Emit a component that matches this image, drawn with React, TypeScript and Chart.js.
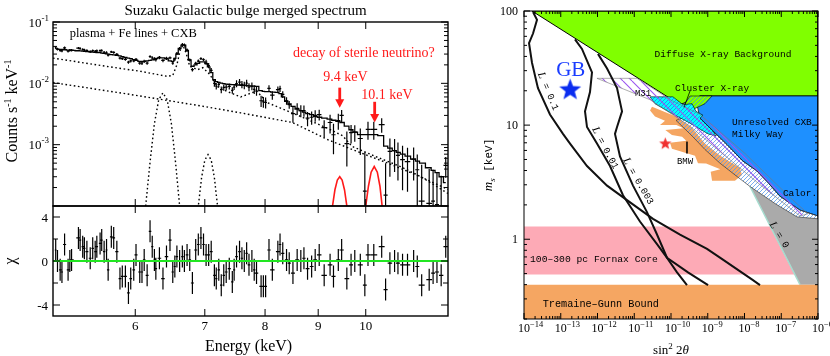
import React, { useEffect, useRef } from "react";
import { Chart, registerables } from "chart.js";

Chart.register(...registerables);

const SERIF = '"Liberation Serif","DejaVu Serif",serif';
const MONO = '"Liberation Mono","DejaVu Sans Mono",monospace';

// ---------------- Left panel: Suzaku spectrum ----------------
const binEnergy = [
  5.03, 5.05, 5.08, 5.1, 5.13, 5.17, 5.19, 5.21, 5.29, 5.31,
  5.34, 5.36, 5.39, 5.43, 5.46, 5.49, 5.51, 5.55, 5.57, 5.6,
  5.63, 5.65, 5.69, 5.72, 5.76, 5.8, 5.83, 5.87, 5.91, 5.94,
  5.98, 6.01, 6.06, 6.09, 6.12, 6.16, 6.2, 6.23, 6.26, 6.28,
  6.33, 6.38, 6.43, 6.48, 6.52, 6.55, 6.58, 6.62, 6.66, 6.69,
  6.73, 6.77, 6.81, 6.86, 6.9, 6.94, 6.98, 7.02, 7.06, 7.1,
  7.15, 7.18, 7.22, 7.26, 7.3, 7.34, 7.39, 7.44, 7.47, 7.51,
  7.56, 7.6, 7.64, 7.68, 7.72, 7.77, 7.81, 7.85, 7.93, 7.97,
  8.01, 8.07, 8.13, 8.23, 8.27, 8.32, 8.39, 8.44, 8.51, 8.59,
  8.66, 8.72, 8.79, 8.87, 8.94, 9.02, 9.12, 9.24, 9.31, 9.41,
  9.48, 9.59, 9.68, 9.76, 9.88, 9.98, 10.05, 10.18, 10.36, 10.45,
  10.55, 10.66, 10.74, 10.85, 10.97, 11.12, 11.21, 11.32, 11.51, 11.61,
  11.71, 11.82, 11.94,
];
const modelCounts = [
  0.0364, 0.0362, 0.0358, 0.0356, 0.0353, 0.0349, 0.0347, 0.0345, 0.034, 0.0337,
  0.0334, 0.0331, 0.0328, 0.0325, 0.0322, 0.0319, 0.0318, 0.0316, 0.0312, 0.0308,
  0.0303, 0.03, 0.0294, 0.029, 0.0285, 0.028, 0.0272, 0.0265, 0.0258, 0.0252,
  0.0243, 0.0237, 0.0228, 0.0227, 0.0228, 0.0232, 0.0236, 0.0242, 0.0249, 0.0254,
  0.026, 0.0261, 0.025, 0.0233, 0.0228, 0.0255, 0.03, 0.037, 0.042, 0.042,
  0.034, 0.024, 0.019, 0.02, 0.0212, 0.0224, 0.0224, 0.021, 0.0185, 0.015,
  0.0115, 0.0107, 0.0104, 0.0101, 0.0099, 0.0097, 0.0096, 0.0095, 0.0095, 0.0094,
  0.0094, 0.0093, 0.0093, 0.0092, 0.0091, 0.009, 0.009, 0.0089, 0.0076, 0.0074,
  0.0073, 0.0073, 0.0072, 0.0071, 0.0068, 0.006, 0.0051, 0.0046, 0.0042, 0.0038,
  0.0036, 0.0034, 0.0032, 0.0031, 0.0029, 0.0028, 0.0027, 0.0026, 0.0025, 0.0024,
  0.0023, 0.002, 0.00175, 0.0016, 0.00146, 0.00146, 0.00146, 0.00146, 0.0014, 0.00095,
  0.00088, 0.0008, 0.00075, 0.0007, 0.00065, 0.00058, 0.00054, 0.0005, 0.00042, 0.00038,
  0.00035, 0.0003, 0.00024,
];
const specCounts = [
  0.0382, 0.0362, 0.0344, 0.0338, 0.0379, 0.0335, 0.0347, 0.0347, 0.0376, 0.0369,
  0.0356, 0.035, 0.0342, 0.0329, 0.0341, 0.0333, 0.0339, 0.0341, 0.0342, 0.0321,
  0.0318, 0.0288, 0.0326, 0.032, 0.0297, 0.0258, 0.0253, 0.0246, 0.0221, 0.0232,
  0.0233, 0.0245, 0.0214, 0.0213, 0.0229, 0.0214, 0.0274, 0.0261, 0.025, 0.0243,
  0.0264, 0.0236, 0.0256, 0.026, 0.0214, 0.0247, 0.0307, 0.037, 0.043, 0.042,
  0.0351, 0.0241, 0.0167, 0.0212, 0.0231, 0.0252, 0.0244, 0.0222, 0.0195, 0.0163,
  0.01, 0.009, 0.0096, 0.0079, 0.0086, 0.0087, 0.0089, 0.0077, 0.0087, 0.0099,
  0.0105, 0.0096, 0.0093, 0.0101, 0.0087, 0.009, 0.008, 0.0075, 0.0052, 0.005,
  0.0049, 0.0083, 0.0064, 0.0079, 0.0082, 0.0066, 0.0052, 0.0045, 0.0032, 0.0039,
  0.0036, 0.0036, 0.0027, 0.0028, 0.003, 0.0031, 0.0019, 0.0023, 0.00145, 0.00247,
  0.003, 0.00104, 0.00157, 0.0016, 0.00126, 0.000175, 0.00178, 0.00178, 0.00213, 0.00015,
  0.00078, 0.0008, 0.00067, 0.00057, 0.00053, 0.00058, 0.00039, 0.00012, 0.00011, 0.00012,
  0.000105, 0.0001, 0.00046,
];
const specSigma = [
  0.0018, 0.0018, 0.0018, 0.0018, 0.0018, 0.0017, 0.0017, 0.0017, 0.0017, 0.0017,
  0.0017, 0.0017, 0.0016, 0.0016, 0.0016, 0.0016, 0.0016, 0.0016, 0.0016, 0.0015,
  0.0015, 0.0015, 0.0015, 0.0015, 0.0014, 0.0014, 0.0014, 0.0013, 0.0013, 0.0013,
  0.0012, 0.0014, 0.0014, 0.0014, 0.0014, 0.0014, 0.0014, 0.0015, 0.0015, 0.0015,
  0.0016, 0.0016, 0.0015, 0.0014, 0.0014, 0.0015, 0.0018, 0.0022, 0.0025, 0.0025,
  0.002, 0.0014, 0.0011, 0.0012, 0.0013, 0.0013, 0.0013, 0.0021, 0.0019, 0.0015,
  0.0012, 0.0011, 0.001, 0.001, 0.001, 0.001, 0.001, 0.00095, 0.00095, 0.0013,
  0.0013, 0.0013, 0.0013, 0.0013, 0.0013, 0.0013, 0.0013, 0.0012, 0.0011, 0.001,
  0.001, 0.001, 0.001, 0.001, 0.00095, 0.00084, 0.00071, 0.00064, 0.00092, 0.00084,
  0.00079, 0.00075, 0.0007, 0.00068, 0.00064, 0.00062, 0.00059, 0.00078, 0.00075, 0.00072,
  0.00069, 0.0006, 0.00053, 0.00048, 0.00058, 0.00058, 0.00058, 0.00058, 0.00056, 0.00035,
  0.00048, 0.00044, 0.00041, 0.00039, 0.00036, 0.00032, 0.0003, 0.00035, 0.00029, 0.00027,
  0.00025, 0.00021, 0.00017,
];
const chiValues = [
  1.0, 0.0, -0.8, -1.0, 1.5, -0.8, 0.0, 0.1, 2.1, 1.9,
  1.3, 1.15, 0.85, 0.25, 1.15, 0.85, 1.3, 1.6, 1.9, 0.85,
  1.0, -0.8, 2.2, 2.1, 0.85, -1.6, -1.4, -1.4, -2.9, -1.6,
  -0.8, 0.55, -1.0, -1.0, 0.1, -1.3, 2.7, 1.3, 0.1, -0.7,
  0.25, -1.6, 0.4, 1.9, -1.0, -0.5, 0.4, 0.0, 0.4, 0.0,
  0.55, 0.1, -2.0, 1.0, 1.5, 2.1, 1.5, 0.55, 0.55, 0.85,
  -1.3, -1.6, -0.8, -2.2, -1.3, -1.0, -0.7, -1.9, -0.8, 0.4,
  0.85, 0.25, 0.0, 0.7, -0.35, 0.0, -0.8, -1.1, -2.3, -2.3,
  -2.3, 1.0, -0.8, 0.85, 1.5, 0.7, 0.1, -0.2, -1.1, 0.1,
  0.0, 0.25, -0.7, -0.5, 0.1, 0.55, -1.3, -0.35, -1.4, 0.1,
  1.0, -1.6, -0.35, 0.0, -0.35, -2.2, 0.55, 0.55, 1.3, -2.6,
  -0.2, 0.0, -0.2, -0.35, -0.35, 0.0, -0.5, -2.2, -1.7, -1.1,
  -1.0, -1.3, 1.3,
];
const plasmaE = [5.0, 5.63, 6.07, 6.44, 6.52, 6.58, 6.63, 6.67, 6.72, 6.77, 6.89, 6.97, 7.08, 7.19, 7.35, 7.58, 7.85, 8.05, 8.65, 9.22, 9.5, 9.7, 10.2, 10.8, 11.3, 12.0];
const plasmaV = [0.0258, 0.0189, 0.0157, 0.013, 0.0135, 0.02, 0.0354, 0.042, 0.03, 0.0189, 0.0167, 0.018, 0.0139, 0.0089, 0.0074, 0.006, 0.0075, 0.0048, 0.0029, 0.0018, 0.0014, 0.00094, 0.00065, 0.00044, 0.0003, 0.00016];
const cxbE = [5.0, 6.0, 6.93, 7.58, 8.5, 9.2, 9.88, 10.5, 11.29, 12.0];
const cxbV = [0.0103, 0.0064, 0.0043, 0.0033, 0.0023, 0.0012, 0.00074, 0.0005, 0.0003, 0.000186];
const feKaE = [6.08, 6.14, 6.2, 6.26, 6.32, 6.38, 6.44, 6.5, 6.56, 6.62, 6.68];
const feKaV = [0.000005, 0.0001, 0.00052, 0.0022, 0.0054, 0.007, 0.0054, 0.0022, 0.00052, 0.0001, 0.000005];
const feKbE = [6.85, 6.9, 6.95, 7.0, 7.05, 7.1, 7.15, 7.2, 7.25];
const feKbV = [0.000022, 0.0001, 0.00029, 0.00056, 0.00069, 0.00056, 0.00029, 0.0001, 0.000022];
const nu94E = [9.24, 9.29, 9.34, 9.39, 9.44, 9.49, 9.54, 9.59, 9.64];
const nu94V = [0.000043, 0.0001, 0.000184, 0.000265, 0.0003, 0.000265, 0.000184, 0.0001, 0.000043];
const nu101E = [9.95, 10.0, 10.06, 10.12, 10.19, 10.26, 10.32, 10.37, 10.43];
const nu101V = [0.000036, 0.0001, 0.00021, 0.000356, 0.00044, 0.000356, 0.00021, 0.0001, 0.000036];
const arrowE = [9.44, 10.2];
const arrowFrom = [0.0085, 0.005];
const arrowTo = [0.004, 0.0023];
const energyTicks = [6, 7, 8, 9, 10];
const countTickExps = [-1, -2, -3];
const chiTicks = [-4, -2, 0, 2, 4];
const chiTickLabels = ["-4", "", "0", "", "4"];

// ---------------- Right panel: sterile neutrino parameter space ----------------
const paramXExps = [-14, -13, -12, -11, -10, -9, -8, -7, -6];
const paramYTicks = [1, 10, 100];
const fornaxRegion = [[1e-14, 1.29], [4.94e-8, 1.29], [2.3e-7, 0.49], [1e-14, 0.49]];
const lZeroRegion = [[1.41e-8, 2.9], [7.19e-8, 2.03], [2.69e-7, 1.57], [1e-6, 1.51], [1e-6, 0.4], [3.24e-7, 0.4]];
const lZeroEdge = [[1.41e-8, 2.9], [3.24e-7, 0.4]];
const tgRegion = [[1e-14, 0.2], [1e-6, 0.2], [1e-6, 0.4], [1e-14, 0.4]];
const dxbRegion = [[1.65e-14, 100], [1e-6, 100], [1e-6, 18.0], [6.15e-10, 18.0], [3.29e-10, 16.4], [1.76e-10, 15.1]];
const cxbRegion = [[6.15e-10, 18.0], [1e-6, 18.0], [1e-6, 1.6], [3.24e-7, 1.8], [9.25e-8, 2.38], [4.36e-8, 3.13], [2.19e-8, 3.96], [9.1e-9, 4.83], [3.34e-9, 6.75], [1.31e-9, 9.06], [6.15e-10, 11.5], [5.1e-10, 15.1]];
const bmwRegion = [[3.04e-11, 14.5], [1.37e-10, 11.9], [3.73e-10, 9.42], [8.41e-10, 6.89], [2.15e-9, 5.43], [7.55e-9, 4.21], [8.55e-9, 3.66], [5.51e-9, 3.26], [1.31e-9, 3.26], [1.2e-9, 3.9], [2.2e-9, 4.1], [9.0e-10, 4.6], [5.43e-10, 4.64], [4.5e-10, 5.4], [1.06e-10, 6.2], [9.4e-11, 7.0], [2.6e-10, 7.3], [2.0e-10, 7.9], [1.06e-10, 8.2], [7.0e-11, 9.06], [2.2e-10, 9.4], [1.4e-10, 10.0], [5.02e-11, 10.0], [6.87e-11, 10.9], [3.67e-11, 11.9], [2.69e-11, 13.4]];
const clusterGreenRegion = [[3.29e-10, 18.0], [1.31e-9, 18.0], [8.41e-10, 15.4], [4.5e-10, 14.0], [2.26e-10, 15.1]];
const calorStripe = [[3.29e-10, 12.4], [6.15e-10, 11.5], [1.31e-9, 9.06], [3.34e-9, 6.75], [9.1e-9, 4.83], [2.19e-8, 3.96], [4.36e-8, 3.13], [9.25e-8, 2.38], [3.24e-7, 1.8], [1e-6, 1.6], [1e-6, 1.51], [2.69e-7, 1.57], [7.19e-8, 2.03], [1.41e-8, 2.9], [5.51e-9, 3.66], [2.15e-9, 4.64], [8.41e-10, 6.11], [3.73e-10, 8.05], [1.99e-10, 9.79], [1.37e-10, 11.0]];
const clusterRegion = [[2.69e-11, 17.7], [1.13e-10, 17.7], [2.12e-10, 15.1], [3.73e-10, 15.4], [4.79e-10, 13.2], [7.43e-10, 12.2], [6.15e-10, 11.5], [1.31e-9, 9.06], [1.68e-9, 8.05], [1.02e-9, 8.38], [3.29e-10, 10.4], [9.4e-11, 12.9], [3.67e-11, 15.4]];
const m31Region = [[9.68e-13, 25.7], [1.19e-11, 25.7], [1.06e-10, 16.4], [6.15e-10, 12.4], [1.03e-8, 5.65], [1.73e-7, 2.33], [5.34e-7, 1.67], [3.24e-7, 1.6], [2.64e-8, 3.01], [2.15e-9, 5.87], [3.29e-10, 9.79], [2.69e-11, 16.7]];
const curveL01 = [[1.76e-14, 98.0], [2.26e-14, 83.8], [1.76e-14, 63.5], [1.37e-14, 52.2], [1.65e-14, 35.2], [2.4e-14, 21.1], [5.09e-14, 12.4], [1.15e-13, 8.38], [1.79e-13, 6.89], [5.18e-13, 4.38], [1.82e-12, 2.95], [6.35e-12, 2.2], [3.24e-11, 1.51], [1.76e-10, 1.1], [9.55e-10, 0.822], [2.15e-9, 0.689], [1.7e-8, 0.438], [2.64e-8, 0.396]];
const curveL001 = [[2.44e-13, 56.5], [3.78e-13, 46.5], [7.08e-13, 29.0], [6.25e-13, 19.5], [4.57e-13, 13.2], [5.18e-13, 9.62], [9.68e-13, 6.89], [2.19e-12, 4.38], [4.94e-12, 2.43], [1.43e-11, 1.43], [4.16e-11, 0.906], [7.78e-11, 0.689], [2.9e-10, 0.512], [1.02e-9, 0.396]];
const curveL0003 = [[1.03e-12, 42.1], [1.82e-12, 31.3], [3.4e-12, 21.1], [4.65e-12, 13.2], [3.4e-12, 9.62], [2.99e-12, 8.38], [4.09e-12, 5.32], [9.25e-12, 2.95], [2.22e-11, 1.73], [4.16e-11, 1.1], [7.78e-11, 0.689], [1.46e-10, 0.512], [2.72e-10, 0.396]];
const clusterLeader = [[3.29e-10, 19.9], [2.26e-10, 14.3]];
const bmwLeader = [[2.72e-10, 7.16], [2.72e-10, 5.65]];
const gbStar = [[1.8e-13, 20.7]];
const redStar = [[7.0e-11, 7.0]];

// ---------------- helpers ----------------
type Part = { t: string; size: number; dy?: number; italic?: boolean; fam?: string };

function fontOf(p: Part, fam: string) {
  return `${p.italic ? "italic " : ""}${p.size}px ${p.fam || fam}`;
}
function drawRich(ctx: any, parts: Part[], x: number, y: number, align: string, fam: string, color: string) {
  ctx.fillStyle = color;
  ctx.textBaseline = "alphabetic";
  ctx.textAlign = "left";
  let w = 0;
  for (const p of parts) {
    ctx.font = fontOf(p, fam);
    w += ctx.measureText(p.t).width;
  }
  let cx = align === "left" ? x : align === "center" ? x - w / 2 : x - w;
  for (const p of parts) {
    ctx.font = fontOf(p, fam);
    ctx.fillText(p.t, cx, y + (p.dy || 0));
    cx += ctx.measureText(p.t).width;
  }
}
function textAt(ctx: any, xs: any, ys: any, xv: number, yv: number, parts: Part[], align: string, fam: string, color: string, angleDeg = 0) {
  const px = xs.getPixelForValue(xv);
  const py = ys.getPixelForValue(yv);
  const size = Math.max(...parts.map((p) => p.size));
  ctx.save();
  ctx.translate(px, py);
  ctx.rotate((angleDeg * Math.PI) / 180);
  drawRich(ctx, parts, 0, size * 0.33, align, fam, color);
  ctx.restore();
}
function seg(ctx: any, x0: number, y0: number, x1: number, y1: number) {
  ctx.beginPath();
  ctx.moveTo(x0, y0);
  ctx.lineTo(x1, y1);
  ctx.stroke();
}
function logMarks(min: number, max: number) {
  const out: { v: number; major: boolean }[] = [];
  const d0 = Math.floor(Math.log10(min) + 1e-9);
  const d1 = Math.ceil(Math.log10(max) - 1e-9);
  for (let d = d0; d <= d1; d++) {
    for (let k = 1; k <= 9; k++) {
      const v = k * Math.pow(10, d);
      if (v >= min * 0.9999 && v <= max * 1.0001) out.push({ v, major: k === 1 });
    }
  }
  return out;
}
const pts = (xs: number[], ys: number[]) => xs.map((x, i) => ({ x, y: ys[i] }));
const poly = (arr: number[][]) => [...arr, arr[0]].map(([x, y]) => ({ x, y }));
const path = (arr: number[][]) => arr.map(([x, y]) => ({ x, y }));
function halfWidths(es: number[]) {
  return es.map((e, i) => {
    const lo = i > 0 ? es[i - 1] : 2 * e - es[i + 1];
    const hi = i < es.length - 1 ? es[i + 1] : 2 * e - es[i - 1];
    return (hi - lo) / 4;
  });
}
function hatch(bg: string, line: string, spacing: number, width: number, back: boolean) {
  const c = document.createElement("canvas");
  c.width = spacing;
  c.height = spacing;
  const g = c.getContext("2d")!;
  if (bg) {
    g.fillStyle = bg;
    g.fillRect(0, 0, spacing, spacing);
  }
  g.strokeStyle = line;
  g.lineWidth = width;
  g.beginPath();
  for (let k = -1; k <= 1; k++) {
    if (back) {
      g.moveTo(k * spacing, 0);
      g.lineTo(k * spacing + spacing, spacing);
    } else {
      g.moveTo(k * spacing, spacing);
      g.lineTo(k * spacing + spacing, 0);
    }
  }
  g.stroke();
  return g.createPattern(c, "repeat");
}
function starCanvas(r: number, color: string) {
  const size = Math.ceil(r * 2 + 2);
  const c = document.createElement("canvas");
  c.width = size;
  c.height = size;
  const g = c.getContext("2d")!;
  g.fillStyle = color;
  g.beginPath();
  for (let i = 0; i < 10; i++) {
    const ang = -Math.PI / 2 + (i * Math.PI) / 5;
    const rr = i % 2 === 0 ? r : r * 0.42;
    const x = size / 2 + rr * Math.cos(ang);
    const y = size / 2 + 1 + rr * Math.sin(ang);
    if (i === 0) g.moveTo(x, y);
    else g.lineTo(x, y);
  }
  g.closePath();
  g.fill();
  return c;
}

const baseOptions = (padding: any, xScale: any, yScale: any) => ({
  responsive: false,
  animation: false,
  devicePixelRatio: 1,
  events: [],
  layout: { padding },
  scales: { x: xScale, y: yScale },
  plugins: { legend: { display: false }, tooltip: { enabled: false }, title: { display: false } },
  elements: { point: { radius: 0 }, line: { tension: 0 } },
});

// ---------------- plugins ----------------
const spectrumDecor = {
  id: "spectrumDecor",
  afterDraw(chart: any) {
    const { ctx, chartArea: a } = chart;
    const xs = chart.scales.x;
    const ys = chart.scales.y;
    ctx.save();
    const red = "#ff1a1a";
    for (let i = 0; i < arrowE.length; i++) {
      const px = xs.getPixelForValue(arrowE[i]);
      const p0 = ys.getPixelForValue(arrowFrom[i]);
      const p1 = ys.getPixelForValue(arrowTo[i]);
      ctx.strokeStyle = red;
      ctx.fillStyle = red;
      ctx.lineWidth = 2.8;
      seg(ctx, px, p0, px, p1 - 7);
      ctx.beginPath();
      ctx.moveTo(px - 4.5, p1 - 8.5);
      ctx.lineTo(px + 4.5, p1 - 8.5);
      ctx.lineTo(px, p1);
      ctx.closePath();
      ctx.fill();
    }
    textAt(ctx, xs, ys, 5.19, 0.067, [{ t: "plasma + Fe lines + CXB", size: 12.5 }], "left", SERIF, "#000");
    textAt(ctx, xs, ys, 8.51, 0.0316, [{ t: "decay of sterile neutrino?", size: 14 }], "left", SERIF, red);
    textAt(ctx, xs, ys, 9.56, 0.0128, [{ t: "9.4 keV", size: 14 }], "center", SERIF, red);
    textAt(ctx, xs, ys, 10.48, 0.0066, [{ t: "10.1 keV", size: 14 }], "center", SERIF, red);

    ctx.strokeStyle = "#000";
    ctx.lineWidth = 1.4;
    ctx.strokeRect(a.left, a.top, a.right - a.left, a.bottom - a.top);
    ctx.lineWidth = 1;
    for (const m of logMarks(ys.min, ys.max)) {
      const py = ys.getPixelForValue(m.v);
      const L = m.major ? 7 : 4;
      seg(ctx, a.left, py, a.left + L, py);
      seg(ctx, a.right, py, a.right - L, py);
    }
    for (const e of energyTicks) {
      const px = xs.getPixelForValue(e);
      seg(ctx, px, a.top, px, a.top + 7);
      seg(ctx, px, a.bottom, px, a.bottom - 7);
    }
    for (const ex of countTickExps) {
      const py = ys.getPixelForValue(Math.pow(10, ex));
      drawRich(ctx, [{ t: "10", size: 13 }, { t: "-" + -ex, size: 9, dy: -6 }], a.left - 4, py + 4.5, "right", SERIF, "#000");
    }
    drawRich(ctx, [{ t: "Suzaku Galactic bulge merged spectrum", size: 15 }], (a.left + a.right) / 2 - 5, 14.5, "center", SERIF, "#000");
    ctx.save();
    ctx.translate(17, (a.top + a.bottom) / 2 - 3);
    ctx.rotate(-Math.PI / 2);
    drawRich(
      ctx,
      [
        { t: "Counts s", size: 16 },
        { t: "-1", size: 10, dy: -6 },
        { t: " keV", size: 16 },
        { t: "-1", size: 10, dy: -6 },
      ],
      0,
      0,
      "center",
      SERIF,
      "#000"
    );
    ctx.restore();
    ctx.restore();
  },
};

const residDecor = {
  id: "residDecor",
  afterDraw(chart: any) {
    const { ctx, chartArea: a } = chart;
    const xs = chart.scales.x;
    const ys = chart.scales.y;
    ctx.save();
    ctx.strokeStyle = "#000";
    ctx.lineWidth = 1.4;
    ctx.strokeRect(a.left, a.top, a.right - a.left, a.bottom - a.top);
    ctx.lineWidth = 1;
    chiTicks.forEach((v, i) => {
      const py = ys.getPixelForValue(v);
      const L = chiTickLabels[i] ? 7 : 5;
      seg(ctx, a.left, py, a.left + L, py);
      seg(ctx, a.right, py, a.right - L, py);
      if (chiTickLabels[i]) drawRich(ctx, [{ t: chiTickLabels[i], size: 13 }], a.left - 5, py + 4.5, "right", SERIF, "#000");
    });
    for (const e of energyTicks) {
      const px = xs.getPixelForValue(e);
      seg(ctx, px, a.top, px, a.top + 7);
      seg(ctx, px, a.bottom, px, a.bottom - 7);
      drawRich(ctx, [{ t: String(e), size: 13 }], px, a.bottom + 13.5, "center", SERIF, "#000");
    }
    drawRich(ctx, [{ t: "Energy (keV)", size: 16 }], (a.left + a.right) / 2 - 2, a.bottom + 34.5, "center", SERIF, "#000");
    ctx.save();
    ctx.translate(15, (a.top + a.bottom) / 2);
    ctx.rotate(-Math.PI / 2);
    drawRich(ctx, [{ t: "χ", size: 16 }], 0, 0, "center", SERIF, "#000");
    ctx.restore();
    ctx.restore();
  },
};

const paramDecor = {
  id: "paramDecor",
  afterDraw(chart: any) {
    const { ctx, chartArea: a } = chart;
    const xs = chart.scales.x;
    const ys = chart.scales.y;
    ctx.save();
    const mono = (t: string, size = 9.5): Part[] => [{ t, size }];
    textAt(ctx, xs, ys, 2.6e-9, 42, mono("Diffuse X-ray Background"), "center", MONO, "#000");
    textAt(ctx, xs, ys, 1.31e-9, 21.1, mono("Cluster X-ray"), "center", MONO, "#000");
    textAt(ctx, xs, ys, 1.73e-11, 19.0, mono("M31", 9), "center", MONO, "#000");
    textAt(ctx, xs, ys, 4.57e-9, 10.6, mono("Unresolved CXB"), "left", MONO, "#000");
    textAt(ctx, xs, ys, 4.57e-9, 8.38, mono("Milky Way"), "left", MONO, "#000");
    textAt(ctx, xs, ys, 2.41e-10, 4.83, mono("BMW", 9), "center", MONO, "#000");
    textAt(ctx, xs, ys, 3.24e-7, 2.54, mono("Calor."), "center", MONO, "#000");
    textAt(ctx, xs, ys, 1.46e-14, 0.675, mono("100–300 pc Fornax Core", 9.7), "left", MONO, "#000");
    textAt(ctx, xs, ys, 3.23e-14, 0.273, mono("Tremaine–Gunn Bound", 10.2), "left", MONO, "#000");
    textAt(ctx, xs, ys, 1.87e-13, 30.7, [{ t: "GB", size: 21 }], "center", SERIF, "#1a3cff");
    const lab = (v: string): Part[] => [{ t: "L", size: 11, italic: true, fam: SERIF }, { t: " = " + v, size: 9.5 }];
    textAt(ctx, xs, ys, 4.8e-14, 19.9, lab("0.1"), "center", MONO, "#000", 67);
    textAt(ctx, xs, ys, 1.7e-12, 6.35, lab("0.01"), "center", MONO, "#000", 62);
    textAt(ctx, xs, ys, 1.35e-11, 3.26, lab("0.003"), "center", MONO, "#000", 60);
    textAt(ctx, xs, ys, 9.2e-8, 1.1, lab("0"), "center", MONO, "#000", 58);

    ctx.strokeStyle = "#000";
    ctx.lineWidth = 1;
    ctx.strokeRect(a.left, a.top, a.right - a.left, a.bottom - a.top);
    for (const m of logMarks(xs.min, xs.max)) {
      const px = xs.getPixelForValue(m.v);
      const L = m.major ? 6 : 3;
      seg(ctx, px, a.bottom, px, a.bottom - L);
      seg(ctx, px, a.top, px, a.top + L);
    }
    for (const m of logMarks(ys.min, ys.max)) {
      const py = ys.getPixelForValue(m.v);
      const L = m.major ? 6 : 3;
      seg(ctx, a.left, py, a.left + L, py);
      seg(ctx, a.right, py, a.right - L, py);
    }
    for (const ex of paramXExps) {
      const px = xs.getPixelForValue(Math.pow(10, ex));
      ctx.font = `12px ${SERIF}`;
      const w10 = ctx.measureText("10").width;
      drawRich(ctx, [{ t: "10", size: 12 }, { t: "−" + -ex, size: 8.5, dy: -5 }], px - w10 / 2, a.bottom + 12.5, "left", SERIF, "#000");
    }
    for (const v of paramYTicks) {
      const py = ys.getPixelForValue(v);
      drawRich(ctx, [{ t: String(v), size: 12 }], a.left - 6, py + 4, "right", SERIF, "#000");
    }
    drawRich(
      ctx,
      [
        { t: "sin", size: 13 },
        { t: "2", size: 9, dy: -5 },
        { t: " 2", size: 13 },
        { t: "θ", size: 13, italic: true },
      ],
      (a.left + a.right) / 2,
      354,
      "center",
      SERIF,
      "#000"
    );
    ctx.save();
    ctx.translate(40, (a.top + a.bottom) / 2);
    ctx.rotate(-Math.PI / 2);
    drawRich(
      ctx,
      [
        { t: "m", size: 13, italic: true },
        { t: "s", size: 9, italic: true, dy: 3 },
        { t: " [keV]", size: 11, fam: MONO },
      ],
      0,
      0,
      "center",
      SERIF,
      "#000"
    );
    ctx.restore();
    ctx.restore();
  },
};

// ---------------- configs ----------------
function spectrumConfig(): any {
  const hw = halfWidths(binEnergy);
  const bars: any[] = [];
  binEnergy.forEach((e, i) => {
    const v = specCounts[i];
    const s = specSigma[i];
    const lo = v - s > 0 ? v - s : 1e-7;
    bars.push({ x: e - hw[i], y: v }, { x: e + hw[i], y: v }, { x: e, y: null }, { x: e, y: lo }, { x: e, y: v + s }, { x: e, y: null });
  });
  const dotted = (xs: number[], ys: number[]) => ({
    data: pts(xs, ys),
    borderColor: "#000",
    borderWidth: 1.4,
    borderDash: [1.6, 2.6],
    pointRadius: 0,
    fill: false,
  });
  return {
    type: "line",
    data: {
      datasets: [
        { data: pts(binEnergy, modelCounts), borderColor: "#000", borderWidth: 1.3, stepped: "middle", pointRadius: 0, fill: false },
        { data: bars, borderColor: "#000", borderWidth: 1.2, pointRadius: 0, fill: false, spanGaps: false },
        dotted(plasmaE, plasmaV),
        dotted(cxbE, cxbV),
        dotted(feKaE, feKaV),
        dotted(feKbE, feKbV),
        { data: pts(nu94E, nu94V), borderColor: "#ff1a1a", borderWidth: 1.6, pointRadius: 0, fill: false },
        { data: pts(nu101E, nu101V), borderColor: "#ff1a1a", borderWidth: 1.6, pointRadius: 0, fill: false },
      ],
    },
    options: baseOptions(
      { left: 53, top: 22, right: 4, bottom: 2 },
      { type: "logarithmic", min: 5, max: 12, display: false },
      { type: "logarithmic", min: 1e-4, max: 0.1, display: false }
    ),
    plugins: [spectrumDecor],
  };
}

function residConfig(): any {
  const hw = halfWidths(binEnergy);
  const bars: any[] = [];
  binEnergy.forEach((e, i) => {
    const c = chiValues[i];
    bars.push({ x: e - hw[i], y: c }, { x: e + hw[i], y: c }, { x: e, y: null }, { x: e, y: c - 1 }, { x: e, y: c + 1 }, { x: e, y: null });
  });
  return {
    type: "line",
    data: {
      datasets: [
        { data: [{ x: 5, y: 0 }, { x: 12, y: 0 }], borderColor: "#22e622", borderWidth: 2.2, pointRadius: 0, fill: false },
        { data: bars, borderColor: "#000", borderWidth: 1.2, pointRadius: 0, fill: false, spanGaps: false },
      ],
    },
    options: baseOptions(
      { left: 53, top: 6, right: 4, bottom: 40 },
      { type: "logarithmic", min: 5, max: 12, display: false },
      { type: "linear", min: -5, max: 5, display: false }
    ),
    plugins: [residDecor],
  };
}

function paramConfig(): any {
  const stripePat = hatch("", "#5a9be8", 4, 0.8, false);
  const cyanPat = hatch("#00ffff", "#2a80e6", 4, 0.8, false);
  const greenPat = hatch("#80ff00", "#3a9ad8", 4, 0.8, false);
  const m31Pat = hatch("", "#9b55f0", 9, 1.1, true);
  const area = (arr: number[][], bg: any, border = "rgba(0,0,0,0)", bw = 0) => ({
    data: poly(arr),
    backgroundColor: bg,
    borderColor: border,
    borderWidth: bw,
    pointRadius: 0,
    fill: "shape",
  });
  const curve = (arr: number[][], color: string, w: number) => ({
    data: path(arr),
    borderColor: color,
    borderWidth: w,
    pointRadius: 0,
    fill: false,
  });
  const star = (arr: number[][], img: any) => ({
    data: path(arr),
    showLine: false,
    pointRadius: 10,
    pointStyle: img,
    borderColor: "rgba(0,0,0,0)",
    fill: false,
  });
  const list: any[] = [
    area(fornaxRegion, "#fdaab6"),
    area(lZeroRegion, "#aaaaaa"),
    curve(lZeroEdge, "#a6dccf", 1.5),
    area(tgRegion, "#f5a662"),
    area(dxbRegion, "#80ff00", "#000", 1),
    area(cxbRegion, "#1e90ff", "#000", 0.7),
    area(bmwRegion, "#f5a662"),
    area(clusterGreenRegion, greenPat, "#000", 0.6),
    area(calorStripe, stripePat, "#222", 0.6),
    area(clusterRegion, cyanPat, "#000", 0.6),
    area(m31Region, m31Pat, "#777", 0.6),
    curve(curveL01, "#111", 2),
    curve(curveL001, "#111", 2),
    curve(curveL0003, "#111", 2),
    curve(clusterLeader, "#000", 0.8),
    curve(bmwLeader, "#000", 0.8),
    star(gbStar, starCanvas(11.5, "#0a2cf0")),
    star(redStar, starCanvas(6.5, "#f03030")),
  ];
  list.forEach((d, i) => (d.order = list.length - i));
  return {
    type: "line",
    data: { datasets: list },
    options: baseOptions(
      { left: 72, top: 4, right: 12, bottom: 37 },
      { type: "logarithmic", min: 1e-14, max: 1e-6, display: false },
      { type: "logarithmic", min: 0.2, max: 100, display: false }
    ),
    plugins: [paramDecor],
  };
}

export default function App() {
  const specRef = useRef<HTMLCanvasElement>(null);
  const residRef = useRef<HTMLCanvasElement>(null);
  const paramRef = useRef<HTMLCanvasElement>(null);
  useEffect(() => {
    const c1 = new Chart(specRef.current as any, spectrumConfig());
    const c2 = new Chart(residRef.current as any, residConfig());
    const c3 = new Chart(paramRef.current as any, paramConfig());
    return () => {
      c1.destroy();
      c2.destroy();
      c3.destroy();
    };
  }, []);
  return (
    <div style={{ position: "fixed", left: 0, top: 0, width: 830, height: 356, background: "#fff", overflow: "hidden" }}>
      <canvas ref={specRef} width={452} height={208} style={{ position: "absolute", left: 0, top: 0, width: 452, height: 208 }} />
      <canvas ref={residRef} width={452} height={156} style={{ position: "absolute", left: 0, top: 200, width: 452, height: 156 }} />
      <canvas ref={paramRef} width={378} height={356} style={{ position: "absolute", left: 452, top: 0, width: 378, height: 356 }} />
    </div>
  );
}
